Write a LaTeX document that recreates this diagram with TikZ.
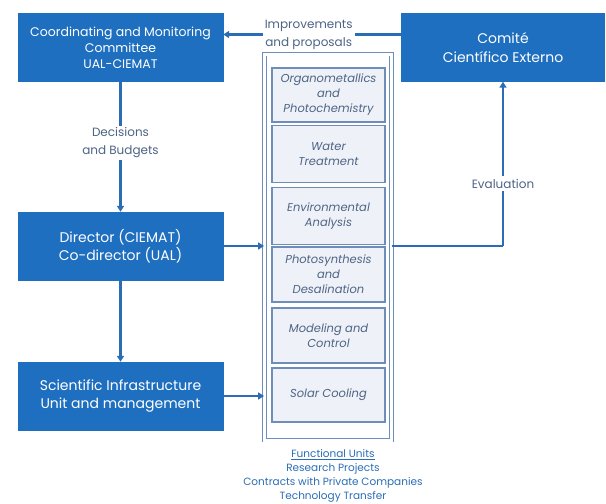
\documentclass[tikz,border=0pt]{standalone}
\usepackage{fontspec}
\setmainfont{Poppins}
\usetikzlibrary{arrows.meta}
\definecolor{boxblue}{HTML}{1E6FC0}
\definecolor{lineblue}{HTML}{2A6DB5}
\definecolor{frameblue}{HTML}{6E8DB8}
\definecolor{unitfill}{HTML}{EEF2F8}
\definecolor{labelgray}{HTML}{4E6485}
\tikzset{
  mainbox/.style={draw=boxblue, fill=boxblue, text=white, minimum width=205pt, minimum height=68pt, align=center, font=\fontsize{14}{18}\selectfont, inner sep=0pt},
  unitbox/.style={draw=frameblue, line width=1.4pt, fill=unitfill, text=labelgray, minimum width=113pt, align=center, font=\fontsize{11.5}{15}\selectfont\itshape, inner sep=0pt},
  conn/.style={draw=lineblue, line width=2.2pt, -{Triangle[length=6pt,width=7pt]}},
  plain/.style={draw=lineblue, line width=2.2pt},
  lbl/.style={text=labelgray, align=center, font=\fontsize{12}{18}\selectfont, fill=white, inner sep=2pt}
}
\begin{document}
\begin{tikzpicture}[x=1pt,y=-1pt]
\useasboundingbox (0,0) rectangle (606,504);
% main boxes
\node[mainbox, font=\fontsize{12.5}{16}\selectfont] (coord) at (120.5,47.5) {Coordinating and Monitoring\\Committee\\UAL-CIEMAT};
\node[mainbox, minimum width=203pt, font=\fontsize{14}{19}\selectfont] (comite) at (503,47.5) {Comité\\Científico Externo};
\node[mainbox] (dir) at (120.5,246) {Director (CIEMAT)\\Co-director (UAL)};
\node[mainbox] (sci) at (120.5,396) {Scientific Infrastructure\\Unit and management};
% frame
\node[draw=frameblue, line width=0.9pt, double=white, double distance=3pt, minimum width=127pt, minimum height=386pt, inner sep=0pt] (frame) at (328,247) {};
% units
\node[unitbox, minimum height=54pt] (u1) at (328.5,95) {Organometallics\\and\\Photochemistry};
\node[unitbox, minimum height=57pt] (u2) at (328.5,154) {Water\\Treatment};
\node[unitbox, minimum height=57pt] (u3) at (328.5,216) {Environmental\\Analysis};
\node[unitbox, minimum height=55pt] (u4) at (328.5,274.5) {Photosynthesis\\and\\Desalination};
\node[unitbox, minimum height=55pt] (u5) at (328.5,335.5) {Modeling and\\Control};
\node[unitbox, minimum height=54pt] (u6) at (328.5,395) {Solar Cooling};
% connectors
\draw[conn] ([yshift=13pt]comite.west) -- ([yshift=13pt]coord.east) node[lbl, pos=0.52] (imp) {Improvements\\and proposals};
\draw[conn] (coord.south) -- (dir.north) node[lbl, pos=0.47] (dec) {Decisions\\and Budgets};
\draw[conn] (dir.south) -- (sci.north);
\draw[conn] (dir.east) -- (frame.west |- dir.east);
\draw[conn] (sci.east) -- (frame.west |- sci.east);
\coordinate (corner) at (503,246);
\draw[plain] (frame.east |- corner) -- (corner);
\draw[conn] (corner) -- (comite.south) node[lbl, pos=0.38, inner sep=3pt] (eval) {Evaluation};
% footnote
\node[text=lineblue, align=center, font=\fontsize{10.5}{14}\selectfont] (foot) at (333,476) {\underline{Functional Units}\\Research Projects\\Contracts with Private Companies\\Technology Transfer};
\end{tikzpicture}
\end{document}
